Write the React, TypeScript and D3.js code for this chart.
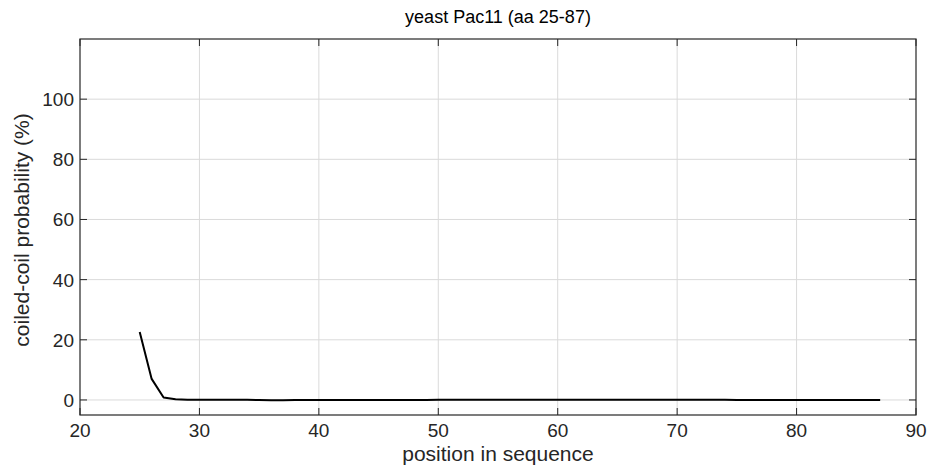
import React from "react";
import * as d3 from "d3";

// residue positions and coiled-coil probability (%)
const positions: number[] = [
  25, 26, 27, 28, 29, 30, 31, 32, 33, 34, 35, 36, 37, 38, 39, 40, 41, 42, 43, 44, 45,
  46, 47, 48, 49, 50, 51, 52, 53, 54, 55, 56, 57, 58, 59, 60, 61, 62, 63, 64, 65, 66,
  67, 68, 69, 70, 71, 72, 73, 74, 75, 76, 77, 78, 79, 80, 81, 82, 83, 84, 85, 86, 87,
];
const probability: number[] = [
  22.6, 7.0, 0.8, 0.2, 0.1, 0.1, 0.1, 0.05, 0.05, 0.05, 0.0, -0.1, -0.1, 0.0, 0.0, 0.0, 0.0, 0.0, 0.0, 0.0, 0.0,
  0.0, 0.0, 0.0, 0.0, 0.05, 0.05, 0.05, 0.05, 0.05, 0.05, 0.05, 0.05, 0.05, 0.05, 0.05, 0.05, 0.05, 0.05, 0.05, 0.05, 0.05,
  0.05, 0.05, 0.05, 0.05, 0.05, 0.05, 0.05, 0.05, 0.0, 0.0, 0.0, 0.0, 0.0, 0.0, 0.0, 0.0, 0.0, 0.0, 0.0, 0.0, 0.0,
];
const xTicks = [20, 30, 40, 50, 60, 70, 80, 90];
const yTicks = [0, 20, 40, 60, 80, 100];

const W = 931;
const H = 469;
const margin = { top: 39, right: 15, bottom: 54, left: 80 };
const font = "'Liberation Sans', Arial, Helvetica, sans-serif";

export default function App() {
  const x = d3.scaleLinear().domain([20, 90]).range([margin.left, W - margin.right]);
  const y = d3.scaleLinear().domain([-5, 120]).range([H - margin.bottom, margin.top]);
  const pts = positions.map((p, i) => [p, probability[i]] as [number, number]);
  const line = d3
    .line<[number, number]>()
    .x((d) => x(d[0]))
    .y((d) => y(d[1]));

  const x0 = x(20);
  const x1 = x(90);
  const yb = y(-5);
  const yt = y(120);
  const tick = 7;

  return (
    <svg
      width={W}
      height={H}
      style={{ position: "absolute", left: 0, top: 0, background: "#fff" }}
      fontFamily={font}
    >
      {/* grid */}
      {xTicks.slice(1, -1).map((t) => (
        <line key={"gx" + t} x1={x(t)} x2={x(t)} y1={yt} y2={yb} stroke="#dadada" strokeWidth={1} />
      ))}
      {yTicks.map((t) => (
        <line key={"gy" + t} x1={x0} x2={x1} y1={y(t)} y2={y(t)} stroke="#dadada" strokeWidth={1} />
      ))}

      {/* data */}
      <path d={line(pts) || ""} fill="none" stroke="#000" strokeWidth={2} strokeLinejoin="round" />

      {/* box */}
      <rect x={x0} y={yt} width={x1 - x0} height={yb - yt} fill="none" stroke="#262626" strokeWidth={1.2} />

      {/* ticks */}
      {xTicks.map((t) => (
        <g key={"tx" + t}>
          <line x1={x(t)} x2={x(t)} y1={yb} y2={yb - tick} stroke="#262626" />
          <line x1={x(t)} x2={x(t)} y1={yt} y2={yt + tick} stroke="#262626" />
          <text x={x(t)} y={yb + 22} textAnchor="middle" fontSize={19} fill="#262626">
            {t}
          </text>
        </g>
      ))}
      {yTicks.map((t) => (
        <g key={"ty" + t}>
          <line x1={x0} x2={x0 + tick} y1={y(t)} y2={y(t)} stroke="#262626" />
          <line x1={x1} x2={x1 - tick} y1={y(t)} y2={y(t)} stroke="#262626" />
          <text x={x0 - 6} y={y(t) + 7} textAnchor="end" fontSize={19} fill="#262626">
            {t}
          </text>
        </g>
      ))}

      {/* labels */}
      <text x={(x0 + x1) / 2} y={23} textAnchor="middle" fontSize={18} fill="#000">
        yeast Pac11 (aa 25-87)
      </text>
      <text x={(x0 + x1) / 2} y={H - 8} textAnchor="middle" fontSize={21} fill="#262626">
        position in sequence
      </text>
      <text
        transform={`translate(29,${(yt + yb) / 2 + 3}) rotate(-90)`}
        textAnchor="middle"
        fontSize={21}
        fill="#262626"
      >
        coiled-coil probability (%)
      </text>
    </svg>
  );
}
